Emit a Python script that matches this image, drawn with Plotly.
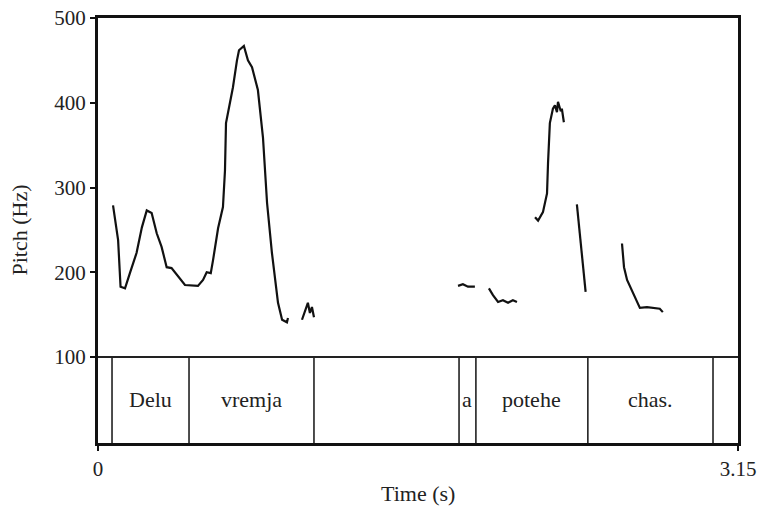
import plotly.graph_objects as go

# Pitch contour (time in s, pitch in Hz); None separates voiced stretches
time_s = [
    0.074, 0.099, 0.111, 0.133, 0.157, 0.190, 0.216, 0.240, 0.264, 0.289, 0.313, 0.338, 0.362,
    0.387, 0.428, 0.492, 0.517, 0.535, 0.555, 0.566, 0.591, 0.615, 0.625, 0.630, 0.650, 0.664,
    0.684, 0.694, 0.718, 0.738, 0.758, 0.787, 0.812, 0.832, 0.856, 0.886, 0.906, 0.930, 0.935,
    None,
    1.004, 1.019, 1.033, 1.043, 1.053, 1.063,
    None,
    1.772, 1.796, 1.821, 1.855,
    None,
    1.924, 1.944, 1.969, 1.993, 2.018, 2.042, 2.062,
    None,
    2.151, 2.166, 2.190, 2.210, 2.215, 2.224, 2.239, 2.249, 2.259, 2.264, 2.278, 2.283, 2.293,
    None,
    2.357, 2.400,
    None,
    2.579, 2.589, 2.604, 2.633, 2.667, 2.702, 2.731, 2.765, 2.780,
]
pitch_hz = [
    279, 238, 183, 181, 199, 223, 253, 273, 270, 246, 230, 206, 205,
    197, 185, 184, 191, 200, 199, 214, 252, 277, 320, 376, 400, 418,
    450, 462, 467, 450, 442, 415, 359, 282, 223, 164, 144, 141, 146,
    None,
    144, 155, 164, 152, 159, 147,
    None,
    184, 186, 183, 183,
    None,
    181, 173, 165, 167, 164, 167, 165,
    None,
    265, 261, 271, 293, 329, 376, 393, 397, 389, 401, 390, 393, 377,
    None,
    280, 177,
    None,
    234, 206, 191, 175, 158, 159, 158, 157, 153,
]

# Word tier: interval boundaries (s) and labels
tier_bounds = [0.0, 0.069, 0.448, 1.063, 1.777, 1.860, 2.411, 3.027, 3.15]
tier_labels = ["", "Delu", "vremja", "", "a", "potehe", "chas.", ""]

t_min, t_max = 0.0, 3.15
y_ticks = [100, 200, 300, 400, 500]

FONT = "Liberation Serif"
TXT = "#222222"

fig = go.Figure()
fig.add_trace(go.Scatter(
    x=time_s, y=pitch_hz, mode="lines", connectgaps=False,
    line=dict(color="#111111", width=2.2), hoverinfo="skip", showlegend=False,
))

shapes = [dict(type="line", xref="x", yref="y", x0=t_min, x1=t_max, y0=100, y1=100,
               line=dict(color="#222222", width=2))]
for b in tier_bounds[1:-1]:
    shapes.append(dict(type="line", xref="x", yref="y", x0=b, x1=b, y0=-1.4, y1=100,
                       line=dict(color="#222222", width=1.6)))

annotations = []
for i, lab in enumerate(tier_labels):
    if lab:
        annotations.append(dict(
            text=lab, xref="x", yref="y",
            x=(tier_bounds[i] + tier_bounds[i + 1]) / 2, y=50,
            showarrow=False, font=dict(family=FONT, size=22, color=TXT)))
annotations += [
    dict(text="Time (s)", xref="paper", yref="paper", x=0.5, y=0,
         yshift=-36, showarrow=False, yanchor="top",
         font=dict(family=FONT, size=22, color=TXT)),
    dict(text="Pitch (Hz)", xref="paper", yref="paper", x=0, y=0.5,
         xshift=-79, showarrow=False, textangle=-90, xanchor="center",
         font=dict(family=FONT, size=22, color=TXT)),
]

fig.update_xaxes(
    range=[t_min, t_max], showgrid=False, zeroline=False, automargin=False,
    showline=True, linecolor="#111111", linewidth=3, mirror=True,
    tickmode="array", tickvals=[t_min, t_max], ticktext=["0", "3.15"],
    ticks="outside", ticklen=5, tickwidth=2, tickcolor="#111111",
    tickfont=dict(family=FONT, size=21, color=TXT),
)
fig.update_yaxes(
    range=[-1.4, 500], showgrid=False, zeroline=False, automargin=False,
    showline=True, linecolor="#111111", linewidth=3, mirror=True,
    tickmode="array", tickvals=y_ticks, ticktext=[str(v) for v in y_ticks],
    ticks="outside", ticklen=5, tickwidth=2, tickcolor="#111111",
    tickfont=dict(family=FONT, size=21, color=TXT),
)

fig.update_layout(
    width=762, height=508,
    margin=dict(l=98, r=24, t=18, b=65, autoexpand=False),
    paper_bgcolor="white", plot_bgcolor="white",
    font=dict(family=FONT, color=TXT),
    shapes=shapes,
    annotations=annotations,
)

fig.write_html("out.html", config={"displayModeBar": False},
               post_script="document.body.style.margin='0';")
